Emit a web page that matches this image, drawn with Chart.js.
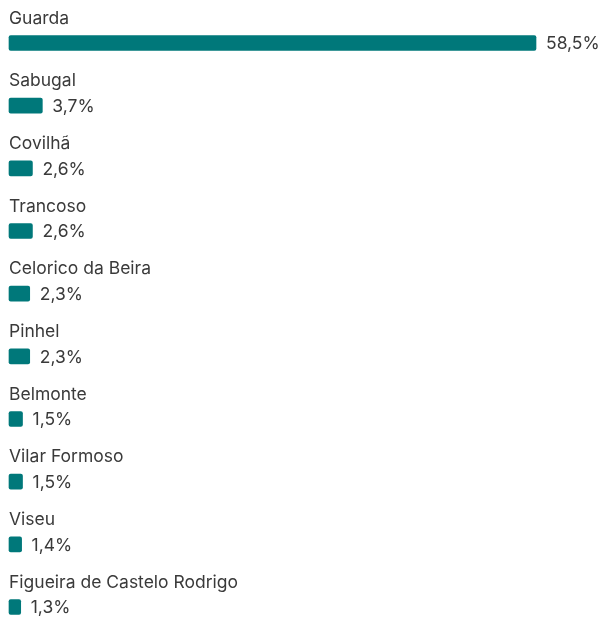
<!DOCTYPE html>
<html>
<head>
<meta charset="utf-8">
<script src="https://cdn.jsdelivr.net/npm/chart.js@4/dist/chart.umd.min.js"></script>
<style>
html,body{margin:0;padding:0;background:#fff;}
#wrap{width:605px;height:618px;position:relative;}
</style>
</head>
<body>
<div id="wrap"><canvas id="c" width="605" height="618"></canvas></div>
<script>
const categories = ["Guarda","Sabugal","Covilhã","Trancoso","Celorico da Beira","Pinhel","Belmonte","Vilar Formoso","Viseu","Figueira de Castelo Rodrigo"];
const values = [58.5,3.7,2.6,2.6,2.3,2.3,1.5,1.5,1.4,1.3];
const valueLabels = ["58,5%","3,7%","2,6%","2,6%","2,3%","2,3%","1,5%","1,5%","1,4%","1,3%"];

const FONT = "Inter, 'Noto Sans', sans-serif";
const labelPlugin = {
  id: 'labels',
  afterDatasetsDraw(chart) {
    const ctx = chart.ctx;
    const meta = chart.getDatasetMeta(0);
    ctx.save();
    ctx.fillStyle = '#3a3a3a';
    ctx.font = '17.5px ' + FONT;
    ctx.textBaseline = 'middle';
    ctx.textAlign = 'left';
    meta.data.forEach((bar, i) => {
      ctx.fillText(categories[i], chart.chartArea.left, bar.y - 24.5);
      ctx.fillText(valueLabels[i], bar.x + 10, bar.y + 1);
    });
    ctx.restore();
  }
};

new Chart(document.getElementById('c'), {
  type: 'bar',
  data: {
    labels: categories,
    datasets: [{
      data: values,
      backgroundColor: '#00787a',
      borderRadius: 2,
      borderSkipped: false,
      barThickness: 15,
      clip: false
    }]
  },
  options: {
    indexAxis: 'y',
    responsive: false,
    animation: false,
    layout: { padding: { left: 9, right: 69, top: 43, bottom: 11 } },
    plugins: { legend: { display: false }, tooltip: { enabled: false } },
    scales: {
      x: { display: false, min: 0, max: Math.max(...values) },
      y: { display: false, offset: false }
    }
  },
  plugins: [labelPlugin]
});
</script>
</body>
</html>
